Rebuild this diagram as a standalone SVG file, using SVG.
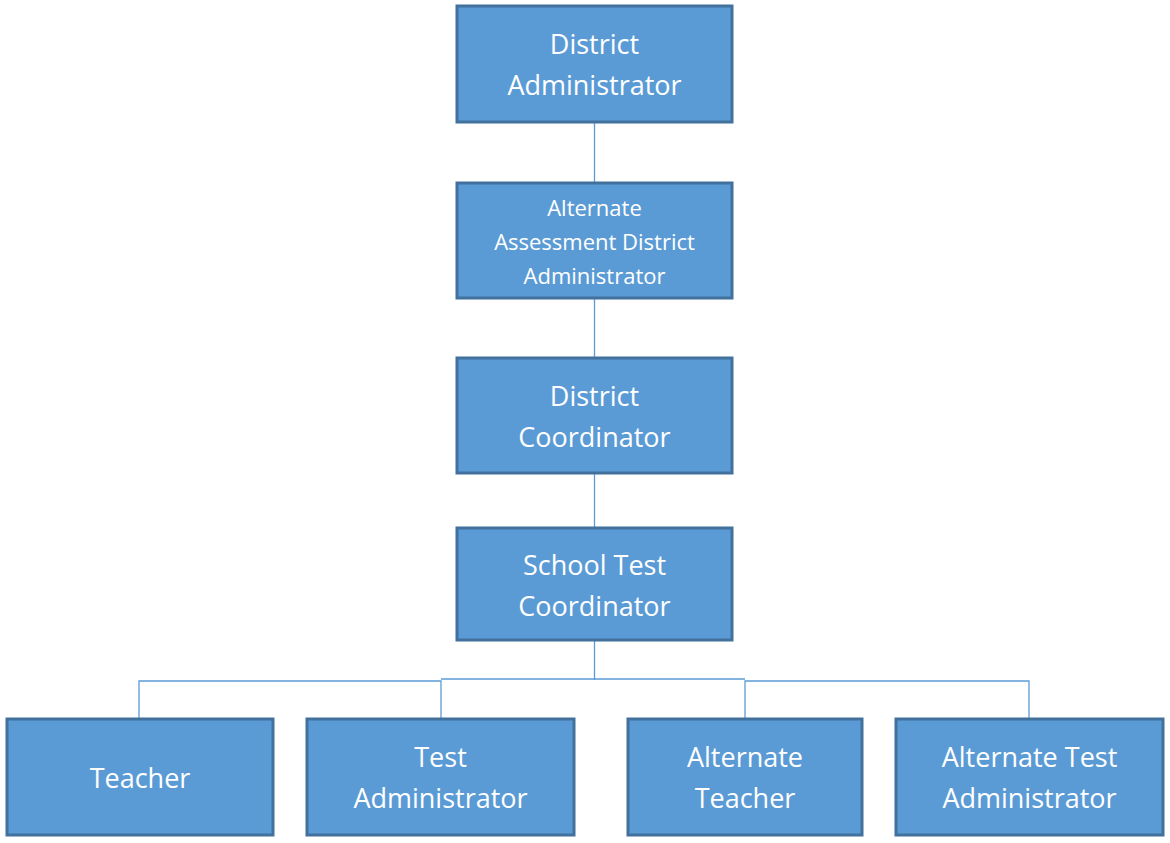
<svg xmlns="http://www.w3.org/2000/svg" width="1170" height="843" viewBox="0 0 1170 843">
<style>
.b{fill:#5B9BD5;stroke:#41719C;stroke-width:3}
.t{fill:#fff;font-family:"Open Sans","Liberation Sans",sans-serif;font-size:27px;text-anchor:middle}
.s{font-size:22px}
.c{stroke:#5B9BD5;stroke-width:1.3;fill:none}
</style>
<rect width="1170" height="843" fill="#fff"/>
<g id="connectors">
<path class="c" d="M594.5 122V183M594.5 298V358M594.5 473V528M594.5 640V680M139 719V681H441V719M441 679H745V679M745 719V681H1029V719"/>
</g>
<g id="n1"><rect class="b" x="457" y="6" width="275" height="116"/><text class="t" x="594.5" y="54">District</text><text class="t" x="594.5" y="95">Administrator</text></g>
<g id="n2"><rect class="b" x="457" y="183" width="275" height="115"/><text class="t s" x="594.5" y="216">Alternate</text><text class="t s" x="594.5" y="250">Assessment District</text><text class="t s" x="594.5" y="284">Administrator</text></g>
<g id="n3"><rect class="b" x="457" y="358" width="275" height="115"/><text class="t" x="594.5" y="406">District</text><text class="t" x="594.5" y="447">Coordinator</text></g>
<g id="n4"><rect class="b" x="457" y="528" width="275" height="112"/><text class="t" x="594.5" y="575">School Test</text><text class="t" x="594.5" y="616">Coordinator</text></g>
<g id="n5"><rect class="b" x="7" y="719" width="266" height="116"/><text class="t" x="140" y="788">Teacher</text></g>
<g id="n6"><rect class="b" x="307" y="719" width="267" height="116"/><text class="t" x="440.5" y="767">Test</text><text class="t" x="440.5" y="808">Administrator</text></g>
<g id="n7"><rect class="b" x="628" y="719" width="234" height="116"/><text class="t" x="745" y="767">Alternate</text><text class="t" x="745" y="808">Teacher</text></g>
<g id="n8"><rect class="b" x="896" y="719" width="267" height="116"/><text class="t" x="1029.5" y="767">Alternate Test</text><text class="t" x="1029.5" y="808">Administrator</text></g>
</svg>
